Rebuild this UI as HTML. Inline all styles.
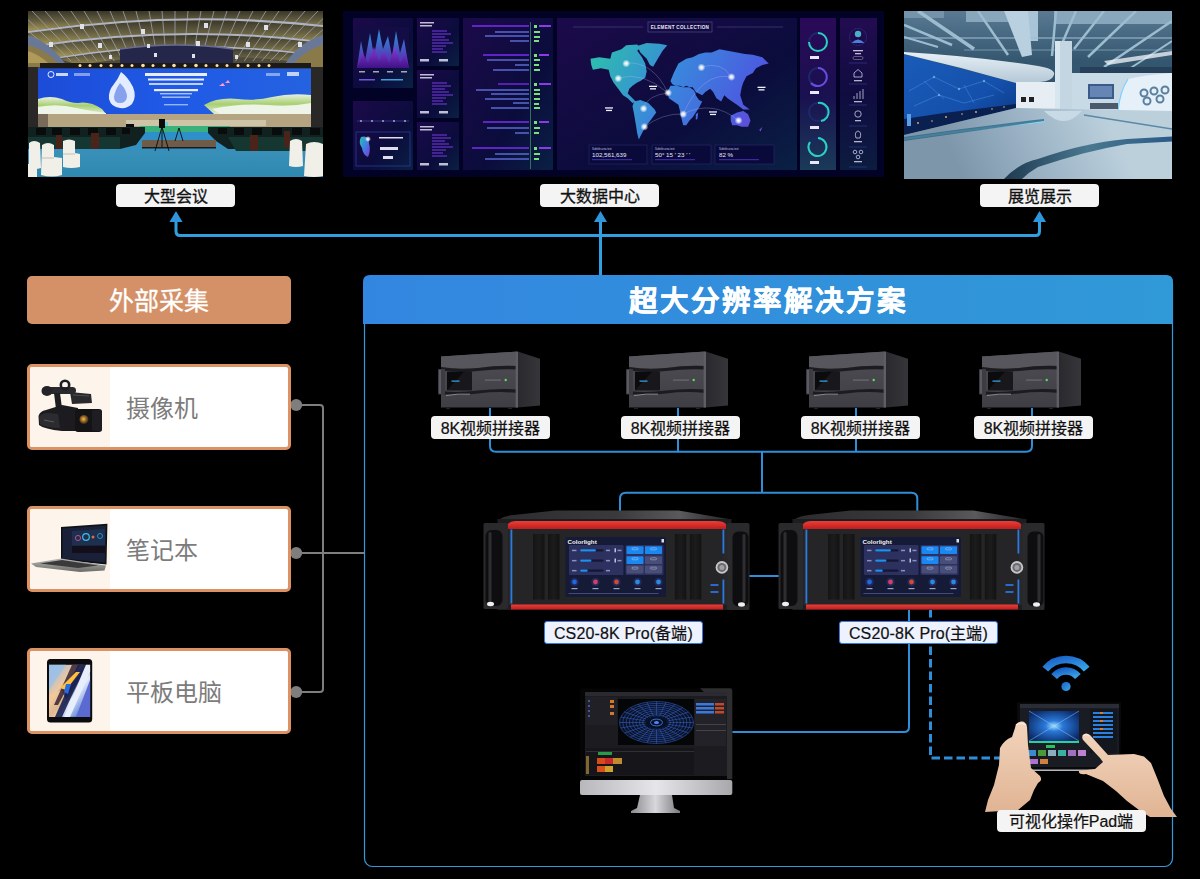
<!DOCTYPE html>
<html lang="zh-CN">
<head>
<meta charset="utf-8">
<title>超大分辨率解决方案</title>
<style>
html,body{margin:0;padding:0;background:#000;}
body{width:1200px;height:879px;position:relative;overflow:hidden;font-family:"Liberation Sans",sans-serif;}
.a{position:absolute;}
svg{display:block;}
.tl{position:absolute;top:183.5px;height:23px;width:119px;background:#f4f4f4;border-radius:4px;color:#111;font-size:16px;line-height:25px;text-align:center;-webkit-text-stroke:0.3px #111;}
.sl{position:absolute;top:415.5px;height:23px;width:119px;background:#f4f4f4;border-radius:4px;color:#111;font-size:16px;line-height:26px;text-align:center;-webkit-text-stroke:0.2px #111;}
.cl{position:absolute;top:620.5px;height:21.5px;width:157px;background:#eef2fe;border:1.2px solid #3a7ae0;border-radius:3px;color:#111;font-size:16px;line-height:23px;text-align:center;letter-spacing:0.15px;-webkit-text-stroke:0.2px #111;}
.card{position:absolute;left:27px;width:258px;height:80px;border:3px solid #dc9262;border-radius:5px;background:#fff;overflow:hidden;}
.card .ic{position:absolute;left:0;top:0;width:80px;height:80px;background:#fdf4eb;}
.card .tx{position:absolute;left:96px;top:1.5px;line-height:80px;font-size:24px;color:#7c7c7c;}
</style>
</head>
<body>

<!-- photos -->
<svg class="a" style="left:28px;top:11px" width="295" height="166" viewBox="0 0 295 166">
  <defs>
    <linearGradient id="cf_pan" x1="0" y1="0" x2="0" y2="1">
      <stop offset="0" stop-color="#3a3628"/>
      <stop offset="0.5" stop-color="#666042"/>
      <stop offset="1" stop-color="#a89650"/>
    </linearGradient>
    <linearGradient id="cf_scr" x1="0" y1="0" x2="1" y2="0">
      <stop offset="0" stop-color="#1c4cd8"/>
      <stop offset="0.5" stop-color="#1f5ae6"/>
      <stop offset="1" stop-color="#2462e0"/>
    </linearGradient>
    <linearGradient id="cf_floor" x1="0" y1="0" x2="0" y2="1">
      <stop offset="0" stop-color="#2a90d0"/>
      <stop offset="0.5" stop-color="#3890b8"/>
      <stop offset="1" stop-color="#2e88b0"/>
    </linearGradient>
    <linearGradient id="cf_hill" x1="0" y1="0" x2="0" y2="1">
      <stop offset="0" stop-color="#e8f0e0"/>
      <stop offset="0.5" stop-color="#a8d070"/>
      <stop offset="1" stop-color="#e0ecd8"/>
    </linearGradient>
  </defs>
  <rect width="295" height="166" fill="#4e4a3a"/>
  <!-- ceiling arch bands -->
  <path d="M0 0 H295 V14 Q150 -2 0 20 Z" fill="url(#cf_pan)"/>
  <path d="M0 22 Q150 0 295 16 L295 30 Q150 12 10 34 Z" fill="url(#cf_pan)"/>
  <path d="M12 36 Q150 14 295 32 L280 42 Q150 26 30 46 Z" fill="url(#cf_pan)"/>
  <path d="M32 48 Q150 28 278 44 L262 50 Q150 38 50 54 Z" fill="url(#cf_pan)" opacity="0.8"/>
  <!-- rafters -->
  <path d="M-22 0 L34.3 50 M-9 0 L43.0 50 M4 0 L51.7 50 M17 0 L60.3 50 M30 0 L69.0 50 M43 0 L77.7 50 M56 0 L86.3 50 M69 0 L95.0 50 M82 0 L103.7 50 M95 0 L112.3 50 M108 0 L121.0 50 M121 0 L129.7 50 M134 0 L138.3 50 M147 0 L147.0 50 M160 0 L155.7 50 M173 0 L164.3 50 M186 0 L173.0 50 M199 0 L181.7 50 M212 0 L190.3 50 M225 0 L199.0 50 M238 0 L207.7 50 M251 0 L216.3 50 M264 0 L225.0 50 M277 0 L233.7 50 M290 0 L242.3 50 M303 0 L251.0 50 M316 0 L259.7 50 " stroke="#9a9ea6" stroke-width="1" fill="none" opacity="0.85"/>
  <!-- arch beams -->
  <g stroke="#b0b4c0" fill="none">
    <path d="M0 21 Q150 -1 295 15" stroke-width="2.2"/>
    <path d="M8 35 Q150 13 295 31" stroke-width="2"/>
    <path d="M28 47 Q150 27 280 43" stroke-width="1.6"/>
  </g>
  <!-- left dome ornament -->
  <path d="M0 24 Q18 30 32 46 L40 56 L0 56 Z" fill="#6a7898"/>
  <path d="M0 34 Q16 38 28 50 L32 56 L0 56 Z" fill="#8a7a4a"/>
  <path d="M0 40 Q12 44 20 52 L0 52 Z" fill="#c0a860" opacity="0.7"/>
  <!-- right dome ornament -->
  <path d="M295 24 Q275 30 262 46 L255 56 L295 56 Z" fill="#6a7898"/>
  <path d="M295 34 Q280 38 268 50 L264 56 L295 56 Z" fill="#8a7a4a"/>
  <!-- back dark wall -->
  <path d="M92 38 Q150 30 205 38 V53 H92 Z" fill="#24264a"/>
  <path d="M92 38 Q150 30 205 38" stroke="#6a6a94" stroke-width="1.5" fill="none"/>
  <!-- lamps -->
  <g fill="#e0e2ea">
    <rect x="52" y="13" width="4" height="5"/><rect x="113" y="18" width="4" height="5"/><rect x="176" y="12" width="4" height="5"/><rect x="236" y="14" width="4" height="5"/>
    <rect x="21" y="31" width="4" height="5"/><rect x="70" y="32" width="4" height="5"/><rect x="119" y="33" width="3" height="4"/><rect x="168" y="30" width="4" height="5"/><rect x="218" y="31" width="4" height="5"/><rect x="270" y="31" width="4" height="5"/>
    <rect x="81" y="44" width="3" height="4"/><rect x="126" y="42" width="3" height="4"/><rect x="164" y="43" width="3" height="4"/><rect x="207" y="44" width="3" height="4"/>
  </g>
  <!-- light bar -->
  <rect x="12" y="52" width="271" height="5.5" fill="#1c1a18"/>
  <g fill="#ffe0a8">
    <circle cx="52" cy="54.5" r="1.5"/><circle cx="62" cy="54.5" r="1.5"/><circle cx="73" cy="54.5" r="1.5"/><circle cx="83" cy="54.5" r="1.5"/>
    <circle cx="94" cy="54.5" r="1.5"/><circle cx="104" cy="54.5" r="1.5"/><circle cx="115" cy="54.5" r="1.8"/><circle cx="125" cy="54.5" r="1.5"/>
    <circle cx="136" cy="54.5" r="1.5"/><circle cx="146" cy="54.5" r="1.8"/><circle cx="157" cy="54.5" r="1.5"/><circle cx="168" cy="54.5" r="1.8"/>
    <circle cx="178" cy="54.5" r="1.5"/><circle cx="189" cy="54.5" r="1.5"/><circle cx="199" cy="54.5" r="1.5"/><circle cx="210" cy="54.5" r="1.5"/>
    <circle cx="220" cy="54.5" r="1.5"/><circle cx="231" cy="54.5" r="1.5"/><circle cx="241" cy="54.5" r="1.5"/>
  </g>
  <!-- dark side walls -->
  <rect x="0" y="56" width="10" height="61" fill="#2a2826"/>
  <rect x="283" y="56" width="12" height="61" fill="#2a2826"/>
  <!-- LED screen -->
  <rect x="10" y="57.5" width="273" height="45.5" fill="url(#cf_scr)"/>
  <!-- hills -->
  <path d="M10 88 Q22 84 34 88 Q42 92 50 92 Q62 90 74 98 L78 103 L10 103 Z" fill="url(#cf_hill)"/>
  <path d="M10 96 Q30 92 48 97 Q62 100 78 102 L78 103 L10 103 Z" fill="#eef4e8"/>
  <path d="M176 94 Q190 86 210 88 Q228 90 244 86 Q262 82 283 84 L283 103 L186 103 Z" fill="url(#cf_hill)"/>
  <path d="M184 98 Q210 92 240 94 Q262 96 283 92 L283 103 L192 103 Z" fill="#eef4e8"/>
  <!-- drop logo -->
  <path d="M93 61 Q100 66 105 76 Q109 86 104 93 Q99 98 92 97 Q83 96 81 88 Q80 80 86 73 Q90 68 93 61 Z" fill="#e4ecff"/>
  <path d="M92 72 Q99 79 99 86 Q98 92 92 92 Q86 92 86 86 Q87 79 92 72 Z" fill="#4a70e0" opacity="0.6"/>
  <!-- screen text -->
  <g fill="#e8eeff">
    <rect x="117" y="62" width="62" height="3"/>
    <rect x="120" y="67.5" width="56" height="2"/>
    <rect x="121" y="72" width="54" height="2" opacity="0.8"/>
    <rect x="126" y="78" width="44" height="2.2"/>
    <rect x="132" y="82" width="32" height="1.4" opacity="0.7"/>
    <rect x="134" y="85.5" width="28" height="1.4" opacity="0.7"/>
    <rect x="136" y="93" width="24" height="1.4" opacity="0.6"/>
    <circle cx="23" cy="63.5" r="3" fill="none" stroke="#e8eeff" stroke-width="1"/>
    <rect x="28" y="62" width="12" height="3" opacity="0.85"/>
    <rect x="46" y="62" width="16" height="3" opacity="0.5"/>
    <rect x="259" y="61" width="12" height="4" opacity="0.8"/>
    <rect x="238" y="62" width="14" height="3" opacity="0.5"/>
  </g>
  <path d="M191 75 l4 -3 l2 3 z M197 72 l3 -3 l2 3 z" fill="#ff9ad0"/>
  <!-- wall under screen -->
  <rect x="10" y="103" width="273" height="14" fill="#b4a482"/>
  <rect x="10" y="103" width="10" height="14" fill="#7a6a58"/>
  <rect x="98" y="109" width="140" height="6" fill="#d8d2b8" opacity="0.7"/>
  <rect x="98" y="113" width="8" height="5" fill="#0a0a10"/><rect x="132" y="111" width="8" height="4" fill="#6ad0e0"/>
  <!-- floor -->
  <rect x="0" y="117" width="295" height="49" fill="url(#cf_floor)"/>
  <rect x="112" y="115" width="90" height="6" fill="#3ab07a"/>
  <!-- desks left -->
  <path d="M0 116 H117 V122 L108 134 L92 138 H0 Z" fill="#11211f"/>
  <path d="M0 126 H92 V138 H0 Z" fill="#163632"/>
  <g fill="#080c0c"><rect x="8" y="117" width="10" height="7"/><rect x="24" y="117" width="10" height="7"/><rect x="42" y="117" width="10" height="7"/><rect x="60" y="117" width="10" height="7"/><rect x="78" y="117" width="10" height="7"/><rect x="94" y="117" width="8" height="6"/></g>
  <!-- desks right -->
  <path d="M180 116 H295 V138 H200 L188 130 L180 122 Z" fill="#11211f"/>
  <path d="M200 126 H295 V140 H208 Z" fill="#163632"/>
  <g fill="#080c0c"><rect x="190" y="117" width="9" height="6"/><rect x="206" y="117" width="10" height="7"/><rect x="224" y="117" width="10" height="7"/><rect x="244" y="117" width="10" height="7"/><rect x="264" y="117" width="10" height="7"/><rect x="282" y="117" width="10" height="7"/></g>
  <!-- brown chairs -->
  <g fill="#4a2418">
    <rect x="63" y="122" width="8" height="16"/><rect x="28" y="124" width="6" height="14"/><rect x="222" y="124" width="8" height="16"/><rect x="256" y="120" width="6" height="16"/>
  </g>
  <!-- stage -->
  <rect x="114" y="129" width="74" height="8" fill="#6e5c48"/>
  <rect x="114" y="136" width="74" height="1.5" fill="#1a1a22"/>
  <!-- tripods -->
  <g stroke="#0a0a0a" stroke-width="0.9" fill="none">
    <path d="M134 116 L127 140 M134 116 L141 140 M134 116 L134 136"/>
    <path d="M151 117 L147 130 M151 117 L155 130"/>
  </g>
  <rect x="131" y="108" width="6" height="9" fill="#0a0a0a"/>
  <!-- white chairs left -->
  <g fill="#f0efe8">
    <path d="M1 132 Q6 128 12 132 L13 157 Q7 159 1 157 Z"/>
    <path d="M14 134 Q20 130 26 134 L26 146 L34 147 L34 164 Q24 167 13 164 Z"/>
    <path d="M35 130 Q41 127 47 130 L47 142 L52 143 L52 156 Q43 158 35 156 Z"/>
    <path d="M0 153 H9 V166 H0 Z"/>
  </g>
  <g fill="#d8d8d0"><rect x="14" y="146" width="12" height="2"/><rect x="35" y="142" width="12" height="2"/></g>
  <!-- white chairs right -->
  <g fill="#f0efe8">
    <path d="M262 130 Q268 126 274 130 L275 155 Q268 157 261 155 Z"/>
    <path d="M278 133 Q286 129 295 133 V165 Q286 167 276 165 Z"/>
  </g>
</svg>

<svg class="a" style="left:343px;top:11px" width="541" height="166" viewBox="0 0 541 166">
  <defs>
    <linearGradient id="db_pan" x1="0" y1="0" x2="0" y2="1">
      <stop offset="0" stop-color="#1a1050"/>
      <stop offset="1" stop-color="#0c1a48"/>
    </linearGradient>
    <linearGradient id="db_pan2" x1="0" y1="0" x2="1" y2="1">
      <stop offset="0" stop-color="#1c0a4a"/>
      <stop offset="0.6" stop-color="#0b0c3c"/>
      <stop offset="1" stop-color="#0a2044"/>
    </linearGradient>
    <linearGradient id="db_map" x1="0" y1="0" x2="1" y2="1">
      <stop offset="0" stop-color="#2cc0b0"/>
      <stop offset="0.45" stop-color="#3a88e0"/>
      <stop offset="1" stop-color="#7a38d8"/>
    </linearGradient>
    <linearGradient id="db_mtn" x1="0" y1="0" x2="0" y2="1">
      <stop offset="0" stop-color="#2aa8e8"/>
      <stop offset="1" stop-color="#6a1ab8"/>
    </linearGradient>
    <linearGradient id="db_mtn2" x1="0" y1="0" x2="0" y2="1">
      <stop offset="0" stop-color="#9a3ae0"/>
      <stop offset="1" stop-color="#3a1080"/>
    </linearGradient>
    <linearGradient id="db_f" x1="0" y1="0" x2="0" y2="1">
      <stop offset="0" stop-color="#2a0a58"/>
      <stop offset="0.5" stop-color="#1a1050"/>
      <stop offset="1" stop-color="#1a3a58"/>
    </linearGradient>
    <linearGradient id="db_map2" gradientUnits="userSpaceOnUse" x1="250" y1="35" x2="420" y2="125">
      <stop offset="0" stop-color="#2cc0ac"/>
      <stop offset="0.45" stop-color="#3a86dc"/>
      <stop offset="0.8" stop-color="#4a5ee0"/>
      <stop offset="1" stop-color="#7040d4"/>
    </linearGradient>
    <linearGradient id="db_g" x1="0" y1="0" x2="0" y2="1">
      <stop offset="0" stop-color="#220c50"/>
      <stop offset="0.5" stop-color="#100c40"/>
      <stop offset="1" stop-color="#0c1c40"/>
    </linearGradient>
    <radialGradient id="db_glow">
      <stop offset="0" stop-color="#fff"/>
      <stop offset="0.4" stop-color="#fff" stop-opacity="0.8"/>
      <stop offset="1" stop-color="#fff" stop-opacity="0"/>
    </radialGradient>
  </defs>
  <rect width="541" height="166" fill="#020226"/>
  <!-- panel A chart -->
  <rect x="10" y="7" width="60" height="70" fill="url(#db_pan2)"/>
  <rect x="14" y="16" width="52" height="41" fill="#140c44"/>
  <path d="M14 57 L18 30 L22 50 L27 22 L31 45 L36 18 L40 38 L45 25 L49 45 L53 20 L57 42 L61 28 L66 57 Z" fill="url(#db_mtn)" opacity="0.9"/>
  <path d="M14 57 L20 42 L25 52 L31 36 L36 50 L41 40 L46 52 L52 35 L57 52 L62 44 L66 57 Z" fill="url(#db_mtn2)" opacity="0.85"/>
  <g fill="#ccd" opacity="0.8"><rect x="16" y="60" width="6" height="1.5"/><rect x="30" y="60" width="6" height="1.5"/><rect x="44" y="60" width="6" height="1.5"/><rect x="58" y="60" width="6" height="1.5"/></g>
  <rect x="16" y="68" width="16" height="1.5" fill="#6a5ae0"/><rect x="38" y="68" width="22" height="1.5" fill="#3aa0e0"/>
  <!-- panel B -->
  <rect x="10" y="90" width="60" height="69" fill="url(#db_pan2)"/>
  <path d="M14 110 H66" stroke="#3a3aa0" stroke-width="0.8"/>
  <g fill="#aab"><circle cx="18" cy="110" r="1"/><circle cx="29" cy="110" r="1"/><circle cx="40" cy="110" r="1"/><circle cx="51" cy="110" r="1"/><circle cx="62" cy="110" r="1"/></g>
  <rect x="13" y="121" width="54" height="34" fill="none" stroke="#2a3a9a" stroke-width="0.8"/>
  <path d="M18 126 Q26 124 26 132 Q28 140 25 146 Q20 144 19 137 Q15 132 18 126 Z" fill="url(#db_map)"/>
  <circle cx="25" cy="128" r="3" fill="url(#db_glow)"/>
  <g fill="#dde"><rect x="36" y="126" width="24" height="1.5"/><rect x="37" y="136" width="18" height="3"/><rect x="40" y="145" width="10" height="3"/></g>
  <!-- column C -->
  <g>
    <rect x="74" y="7" width="42" height="48" fill="url(#db_pan2)"/>
    <rect x="74" y="59" width="42" height="48" fill="url(#db_pan2)"/>
    <rect x="74" y="111" width="42" height="48" fill="url(#db_pan2)"/>
  </g>
  <g fill="#dde" opacity="0.85">
    <rect x="77" y="11" width="14" height="1.5"/><rect x="77" y="14" width="12" height="1.5"/>
    <rect x="77" y="63" width="14" height="1.5"/><rect x="77" y="66" width="12" height="1.5"/>
    <rect x="77" y="115" width="14" height="1.5"/><rect x="77" y="118" width="12" height="1.5"/>
    <rect x="77" y="48" width="9" height="2.5"/><rect x="96" y="48" width="9" height="2.5"/>
    <rect x="77" y="100" width="9" height="2.5"/><rect x="96" y="100" width="9" height="2.5"/>
    <rect x="77" y="152" width="9" height="2.5"/><rect x="96" y="152" width="9" height="2.5"/>
  </g>
  <g stroke="#7a3ae8" stroke-width="1.1">
    <path d="M89 20 H104 M89 23 H108 M89 26 H102 M89 29 H106 M89 32 H110 M89 35 H103 M89 38 H100 M89 41 H104"/>
    <path d="M89 72 H104 M89 75 H108 M89 78 H102 M89 81 H106 M89 84 H110 M89 87 H103 M89 90 H100 M89 93 H104"/>
    <path d="M89 124 H104 M89 127 H108 M89 130 H102 M89 133 H106 M89 136 H110 M89 139 H103 M89 142 H100 M89 145 H104"/>
  </g>
  <!-- panel D bars -->
  <rect x="120" y="7" width="90" height="152" fill="url(#db_pan2)"/>
  <path d="M187.5 11 V158" stroke="#3a8a6a" stroke-width="0.8"/>
  <g stroke-width="1.3">
    <path d="M129 15 H186" stroke="#7a2ef0"/>
    <path d="M152 21 H186 M142 25 H186 M167 30 H186" stroke="#5a6ad0"/>
    <path d="M140 44 H186" stroke="#7a2ef0"/>
    <path d="M144 49 H186 M172 54 H186 M150 59 H186" stroke="#5a6ad0"/>
    <path d="M155 73 H186" stroke="#7a2ef0"/>
    <path d="M133 79 H186 M148 83 H186 M142 88 H186 M170 92 H186 M148 97 H186" stroke="#5a6ad0"/>
    <path d="M140 111 H186" stroke="#7a2ef0"/>
    <path d="M144 117 H186 M172 122 H186" stroke="#5a6ad0"/>
    <path d="M129 137 H186" stroke="#7a2ef0"/>
    <path d="M152 143 H186 M142 148 H186" stroke="#5a6ad0"/>
  </g>
  <g fill="#7ae07a">
    <rect x="191" y="14" width="3" height="3"/><rect x="191" y="43" width="3" height="3"/><rect x="191" y="72" width="3" height="3"/><rect x="191" y="110" width="3" height="3"/><rect x="191" y="136" width="3" height="3"/>
    <rect x="191" y="20" width="6" height="2"/><rect x="191" y="25" width="6" height="2"/><rect x="191" y="29" width="5" height="2"/>
    <rect x="191" y="48" width="6" height="2"/><rect x="191" y="53" width="5" height="2"/><rect x="191" y="58" width="6" height="2"/>
    <rect x="191" y="78" width="6" height="2"/><rect x="191" y="82" width="6" height="2"/><rect x="191" y="87" width="6" height="2"/><rect x="191" y="92" width="5" height="2"/><rect x="191" y="96" width="6" height="2"/>
    <rect x="191" y="116" width="6" height="2"/><rect x="191" y="121" width="5" height="2"/>
    <rect x="191" y="142" width="6" height="2"/><rect x="191" y="147" width="5" height="2"/>
  </g>
  <g fill="#8a3ae8"><rect x="196" y="14" width="12" height="2"/><rect x="196" y="43" width="10" height="2"/><rect x="196" y="72" width="12" height="2"/><rect x="196" y="110" width="10" height="2"/><rect x="196" y="136" width="12" height="2"/></g>
  <!-- panel E map -->
  <rect x="214" y="7" width="240" height="152" fill="url(#db_pan2)"/>
  <rect x="305" y="11" width="64" height="10" fill="none" stroke="#4a4a8a" stroke-width="0.7"/>
  <text x="337" y="18.3" text-anchor="middle" font-family="Liberation Sans, sans-serif" font-size="4.6" font-weight="700" fill="#e8e8f8" letter-spacing="0.3">ELEMENT COLLECTION</text>
  <path d="M230 16 H300 M374 16 H440" stroke="#4a4a8a" stroke-width="0.6"/>
  <g fill="url(#db_map2)">
<polygon points="247.5,47.7 256.2,46.2 267.3,47.7 268.9,41.4 278.4,38.2 283.2,34.3 294.2,33.5 297.4,36.7 294.2,39.8 299.0,46.2 302.2,52.5 303.7,60.4 302.2,66.7 297.4,69.9 294.2,71.5 289.5,74.7 286.3,77.8 284.7,82.6 289.5,87.3 292.7,90.5 289.5,92.1 284.7,87.3 280.0,84.2 275.2,77.8 270.5,71.5 267.3,65.2 265.7,58.8 257.8,57.2 249.9,58.8 248.3,54.1"/>
    <polygon points="294.2,35.1 303.7,31.9 316.4,32.7 324.3,34.3 319.6,39.8 314.8,47.7 310.1,55.7 306.9,54.1 303.7,47.7 297.4,41.4"/>
    <polygon points="291.1,90.5 297.4,88.9 305.3,92.1 311.7,98.4 313.2,101.6 308.5,107.9 303.7,114.2 300.6,119.0 297.4,125.3 295.8,128.5 294.2,122.2 292.7,112.7 291.1,103.2 289.5,95.2"/>
    <polygon points="327.5,69.9 330.7,62.0 335.4,52.5 343.3,47.7 349.7,46.2 356.0,43.0 362.3,41.4 368.7,41.4 376.6,38.2 384.5,39.8 394.0,41.4 401.9,43.0 409.8,43.8 419.3,46.2 425.7,52.5 419.3,54.1 413.0,57.2 409.8,62.0 403.5,65.2 400.3,71.5 398.7,76.2 397.2,84.2 400.3,93.7 406.7,98.4 400.3,98.4 394.0,93.7 389.2,90.5 384.5,87.3 381.3,84.2 378.2,90.5 373.4,87.3 370.2,81.0 367.1,77.8 362.3,81.0 359.2,84.2 352.8,81.0 349.7,76.2 346.5,76.2 343.3,74.7 340.2,76.2 337.0,74.7 332.2,74.7 329.1,73.1"/>
    <polygon points="327.5,74.7 333.8,74.7 340.2,76.2 346.5,76.2 351.2,79.4 352.8,84.2 356.0,88.9 359.2,90.5 356.0,96.8 352.8,101.6 349.7,106.3 346.5,109.5 343.3,114.2 340.2,114.2 338.6,107.9 337.0,100.0 335.4,93.7 330.7,90.5 325.9,87.3 324.3,81.0"/>
    <polygon points="387.7,104.7 394.0,101.6 400.3,100.0 405.1,103.2 407.5,109.5 405.1,115.8 398.7,115.8 394.0,114.2 389.2,114.2 387.7,109.5"/>
    <polygon points="352.8,103.2 355.2,101.6 354.4,107.9 352.8,108.7"/>
    <polygon points="416.2,119.0 419.3,115.8 417.7,120.6"/>
  </g>
  <g fill="none" stroke="#c0c8ff" stroke-width="0.5" opacity="0.55">
    <path d="M283 52 Q310 50 325 82"/><path d="M275 67 Q300 60 325 82"/><path d="M300 97 Q305 84 325 82"/><path d="M301 116 Q320 102 340 103"/>
    <path d="M340 103 Q360 60 388 66"/><path d="M358 56 Q380 50 388 66"/><path d="M340 103 Q370 88 396 110"/>
  </g>
  <g fill="url(#db_glow)">
    <circle cx="283.2" cy="52.5" r="4"/> <circle cx="275.2" cy="67.5" r="4"/> <circle cx="325.1" cy="81.8" r="4"/> <circle cx="300.6" cy="97.6" r="4"/> <circle cx="301.4" cy="115.8" r="4"/> <circle cx="340.2" cy="103.2" r="4"/> <circle cx="358.4" cy="56.5" r="4"/> <circle cx="388.5" cy="66.0" r="4"/> <circle cx="395.6" cy="109.5" r="4"/>
  </g>
  <g fill="#0a0a3a" stroke="#2a2a6a" stroke-width="0.6">
    <rect x="246" y="134" width="58" height="19"/><rect x="309" y="134" width="59" height="19"/><rect x="372" y="134" width="59" height="19"/>
  </g>
  <g font-family="Liberation Sans, sans-serif" fill="#e8e8ff">
    <text x="249" y="146" font-size="6.2">102,561,639</text><text x="312" y="146" font-size="6.2">50° 15 ' 23 ' '</text><text x="376" y="146" font-size="6.2">82 %</text>
    <text x="249" y="139" font-size="2.6" fill="#c8c8e8">Subtitle area text</text><text x="312" y="139" font-size="2.6" fill="#c8c8e8">Subtitle area text</text><text x="376" y="139" font-size="2.6" fill="#c8c8e8">Subtitle area text</text>
  </g>
  <g fill="#f0f0ff"><rect x="306" y="74.7" width="8" height="1.3"/><rect x="307" y="77.2" width="6" height="1.3"/><rect x="262" y="96.3" width="8" height="1.3"/><rect x="263" y="98.8" width="6" height="1.3"/><rect x="366" y="100.3" width="8" height="1.3"/><rect x="367" y="102.8" width="6" height="1.3"/><rect x="414.5" y="75.7" width="8" height="1.3"/><rect x="415.5" y="78.2" width="6" height="1.3"/></g>
  <g fill="#3a2aa0"><rect x="249" y="148" width="40" height="1.2"/><rect x="312" y="148" width="40" height="1.2"/><rect x="376" y="148" width="40" height="1.2"/></g>
  <!-- panel F rings -->
  <rect x="457" y="7" width="36" height="152" fill="url(#db_f)"/>
  <g fill="none" stroke-width="2">
    <circle cx="475" cy="31" r="9" stroke="#1a2a6a"/><path d="M475 22 A9 9 0 1 1 466 31" stroke="#2ad0c0"/>
    <circle cx="475" cy="66" r="9" stroke="#1a2a6a"/><path d="M475 57 A9 9 0 1 1 468 72" stroke="#6a4ae0"/>
    <circle cx="475" cy="101" r="9" stroke="#1a2a6a"/><path d="M475 92 A9 9 0 0 1 478 110" stroke="#2ad0c0"/>
    <circle cx="475" cy="136" r="9" stroke="#1a2a6a"/><path d="M475 127 A9 9 0 1 1 467 131" stroke="#2ad0c0"/>
  </g>
  <g fill="#e8e8ff"><rect x="467" y="45" width="9" height="3"/><rect x="467" y="80" width="9" height="3"/><rect x="467" y="115" width="9" height="3"/><rect x="467" y="150" width="9" height="3"/></g>
  <!-- panel G icons -->
  <rect x="497" y="7" width="37" height="152" fill="url(#db_g)"/>
  <circle cx="515" cy="26" r="8.5" fill="none" stroke="#3a3a90" stroke-width="0.8" stroke-dasharray="1 0.6"/>
  <circle cx="515" cy="23" r="3.2" fill="#4ab0c8"/><path d="M508.5 32 Q515 25 521.5 32 Z" fill="#4a80d8"/>
  <g fill="#dde" opacity="0.85"><rect x="510" y="39" width="10" height="1.3"/><rect x="512" y="42" width="6" height="1.3"/></g>
  <rect x="510" y="45.5" width="10" height="3" rx="1.5" fill="none" stroke="#aab" stroke-width="0.5"/>
  <g stroke="#3a4aa0" stroke-width="0.5"><path d="M506 52 H524 M506 73 H524 M506 94 H524 M506 115 H524 M506 136 H524 M506 156 H524"/></g>
  <g fill="none" stroke="#c8cce8" stroke-width="0.8">
    <path d="M511 62 L515 58.5 L519 62 V66 H511 Z"/>
    <path d="M511 88 V85 M514 88 V82 M517 88 V80 M520 88 V78"/>
    <circle cx="515" cy="103" r="3.2"/>
    <path d="M513 127 Q511 121 515 120 Q519 121 517 127 Z"/>
    <circle cx="512" cy="141" r="1.8"/><circle cx="518" cy="141" r="1.8"/><circle cx="515" cy="146" r="1.8"/>
  </g>
  <g fill="#dde" opacity="0.8"><rect x="511" y="69" width="8" height="1.3"/><rect x="511" y="90" width="8" height="1.3"/><rect x="512" y="109" width="6" height="1.3"/><rect x="511" y="130" width="8" height="1.3"/><rect x="511" y="150" width="8" height="1.3"/></g>
</svg>

<svg class="a" style="left:904px;top:11px" width="268" height="168" viewBox="0 0 268 168">
  <defs>
    <linearGradient id="ex_ceil" x1="0" y1="0" x2="0" y2="1">
      <stop offset="0" stop-color="#5a7a94"/>
      <stop offset="0.3" stop-color="#34566e"/>
      <stop offset="1" stop-color="#2a4a62"/>
    </linearGradient>
    <linearGradient id="ex_wall" x1="0" y1="0" x2="1" y2="1">
      <stop offset="0" stop-color="#1a5cb8"/>
      <stop offset="0.6" stop-color="#1450ac"/>
      <stop offset="1" stop-color="#0a3278"/>
    </linearGradient>
    <linearGradient id="ex_floor" gradientUnits="userSpaceOnUse" x1="60" y1="168" x2="200" y2="100">
      <stop offset="0" stop-color="#7e96aa"/>
      <stop offset="0.5" stop-color="#9cb4c6"/>
      <stop offset="1" stop-color="#bcd0dc"/>
    </linearGradient>
    <linearGradient id="ex_stripe" x1="0" y1="0" x2="1" y2="0">
      <stop offset="0" stop-color="#1e3a50"/>
      <stop offset="0.5" stop-color="#4a7890"/>
      <stop offset="1" stop-color="#2a5a88"/>
    </linearGradient>
    <linearGradient id="ex_canopy" x1="0" y1="0" x2="0" y2="1">
      <stop offset="0" stop-color="#e8f0f6"/>
      <stop offset="1" stop-color="#b4c8d6"/>
    </linearGradient>
  </defs>
  <rect width="268" height="168" fill="url(#ex_ceil)"/>
  <!-- ceiling light panels -->
  <g fill="#88a6bc">
    <rect x="62" y="0" width="70" height="11"/>
    <rect x="150" y="0" width="118" height="13"/>
    <rect x="0" y="0" width="40" height="7" opacity="0.6"/>
  </g>
  <rect x="112" y="0" width="22" height="30" fill="#a8c4d6"/>
  <!-- ducts & beams -->
  <g stroke="#9cbcd0" fill="none">
    <path d="M0 27 H268" stroke-width="1.5" opacity="0.7"/>
    <path d="M60 39 H268" stroke-width="1.2" opacity="0.6"/>
    <path d="M14 0 L70 38" stroke-width="3.5"/>
    <path d="M0 14 L48 34" stroke-width="2.5"/>
    <path d="M0 26 L34 36" stroke-width="2"/>
    <path d="M74 0 L104 44" stroke-width="2.5"/>
    <path d="M152 0 L148 45" stroke-width="2.5"/>
    <path d="M172 0 L154 42" stroke-width="2.5"/>
    <path d="M200 0 L170 38" stroke-width="2.5"/>
    <path d="M232 0 L184 46" stroke-width="2.5"/>
    <path d="M268 10 L200 56" stroke-width="2.5"/>
    <path d="M268 30 L222 60" stroke-width="2"/>
  </g>
  <path d="M100 0 L124 0 L128 44 L118 46 Z" fill="#b8d0e0"/>
  <!-- light strip right -->
  <path d="M200 50 L268 40 L268 44 L204 54 Z" fill="#e8eef4" opacity="0.8"/>
  <rect x="176" y="56" width="92" height="6" fill="#26405a"/>
  <!-- left video wall -->
  <path d="M0 43 L112 72 L112 96 L0 124 Z" fill="url(#ex_wall)"/>
  <g stroke="#6ab8ff" stroke-width="0.5" opacity="0.6" fill="none">
    <path d="M5 80 L30 66 L55 78 L80 70 L100 82"/><path d="M10 95 L35 84 L60 92 L90 84"/><path d="M20 70 L40 88 M60 74 L70 92"/>
  </g>
  <g fill="#8ad0ff" opacity="0.6"><circle cx="30" cy="66" r="1.2"/><circle cx="55" cy="78" r="1.2"/><circle cx="80" cy="70" r="1.2"/><circle cx="35" cy="84" r="1.2"/></g>
  <path d="M0 108 L40 102 L80 97 L112 93 L112 97 L0 124 Z" fill="#0a2050"/>
  <g fill="#ffc870" opacity="0.9"><circle cx="14" cy="112" r="0.9"/><circle cx="28" cy="110" r="0.8"/><circle cx="42" cy="106" r="0.9"/><circle cx="58" cy="103" r="0.8"/><circle cx="72" cy="101" r="0.9"/><circle cx="88" cy="98" r="0.8"/><circle cx="100" cy="96" r="0.8"/></g>
  <rect x="3" y="103" width="4" height="12" fill="#5aa0e8"/>
  <!-- white curved canopy -->
  <path d="M0 41 Q70 45 134 55 Q152 58 150 64 Q148 70 136 71 L112 72 Q56 56 0 43 Z" fill="url(#ex_canopy)"/>
  <!-- back white room -->
  <rect x="112" y="71" width="40" height="27" fill="#e6eef4"/>
  <rect x="117" y="86" width="5" height="5" fill="#222"/><rect x="125" y="86" width="5" height="5" fill="#222"/>
  <!-- right back wall -->
  <rect x="168" y="62" width="100" height="40" fill="#c8dae6"/>
  <rect x="184" y="73" width="26" height="15" fill="#3a5a88"/>
  <rect x="186" y="75" width="22" height="11" fill="#8aa8d8" opacity="0.55"/>
  <path d="M224 68 Q240 64 268 62 V102 H214 Q216 80 224 68 Z" fill="#e6f0f8"/>
  <path d="M224 68 Q216 80 214 100" stroke="#7ad0ff" stroke-width="1.2" fill="none"/>
  <g fill="none" stroke="#5a80a0" stroke-width="2">
    <circle cx="240" cy="82" r="3.5"/><circle cx="250" cy="80" r="3.5"/><circle cx="261" cy="79" r="3.5"/><circle cx="243" cy="90" r="3.5"/><circle cx="256" cy="88" r="3.5"/>
  </g>
  <rect x="186" y="92" width="28" height="6" fill="#4a5a6a"/>
  <!-- pillar -->
  <rect x="151" y="30" width="17" height="74" fill="#c4d6e2"/>
  <rect x="151" y="30" width="5" height="74" fill="#d8e6f0"/>
  <!-- floor -->
  <path d="M0 124 L112 97 L268 100 V168 H0 Z" fill="url(#ex_floor)"/>
  <path d="M0 128 Q70 118 140 110" fill="none" stroke="#7ae0ff" stroke-width="2"/>
  <path d="M0 126 Q70 116 140 108 L140 110 Q70 120 0 130 Z" fill="#2a5a78" opacity="0.7"/>
  <path d="M140 100 Q160 120 178 100 Z" fill="#c8dae6"/>
  <path d="M180 104 Q230 112 268 118" fill="none" stroke="#5a88a8" stroke-width="1.5"/>
  <!-- dark curved stripe -->
  <path d="M100 168 Q115 152 134 148 Q160 139 179 135 Q200 130 223 128 L268 125.5 L268 130.5 L223 133 Q200 137 179 142.5 Q155 149 134 156 Q125 161 118 168 Z" fill="url(#ex_stripe)"/>
</svg>


<!-- base graphics layer -->
<svg class="a" style="left:0;top:0" width="1200" height="879" viewBox="0 0 1200 879">
  <defs>
    <linearGradient id="hdr" x1="0" y1="0" x2="1" y2="0">
      <stop offset="0" stop-color="#3386e0"/>
      <stop offset="1" stop-color="#3099d7"/>
    </linearGradient>
  </defs>

  <!-- top arrows -->
  <g fill="none" stroke="#31a0e0" stroke-width="3">
    <path d="M176 222 V231 Q176 235.5 180 235.5 H1036 Q1039.5 235.5 1039.5 231 V222"/>
    <path d="M600.5 222 V275"/>
  </g>
  <g fill="#2f96dc">
    <path d="M169.5 222 L176 211 L182.5 222 Z"/>
    <path d="M594 222 L600.5 211 L607 222 Z"/>
    <path d="M1033 222 L1039.5 211 L1046 222 Z"/>
  </g>

  <!-- big solution box -->
  <rect x="364.5" y="275.5" width="808" height="591" rx="8" fill="none" stroke="#3399dd" stroke-width="1.2"/>
  <path d="M363 324 V282 Q363 275 370 275 H1166 Q1173 275 1173 282 V324 Z" fill="url(#hdr)"/>

  <!-- left connectors -->
  <g fill="none" stroke="#7e7e7e" stroke-width="2">
    <path d="M300 405 H320 Q323 405 323 408 V689 Q323 692 320 692 H300"/>
    <path d="M300 553 H364"/>
  </g>
  <g fill="#7e7e7e">
    <circle cx="296.2" cy="405" r="6"/>
    <circle cx="296.2" cy="553" r="6"/>
    <circle cx="296.2" cy="692" r="6"/>
  </g>

  <!-- server connectors -->
  <g fill="none" stroke="#2f8ed8" stroke-width="2">
    <path d="M490 408 V446 Q490 451.8 496 451.8 H1026 Q1032 451.8 1032 446 V408"/>
    <path d="M678 408 V452"/>
    <path d="M856 408 V452"/>
    <path d="M762 451.8 V492.7"/>
    <path d="M620 512 V498.7 Q620 492.7 626 492.7 H911.3 Q917.3 492.7 917.3 498.7 V512"/>
    <path d="M740 576 H790"/>
    <path d="M909 609 V727 Q909 732 904 732 H732"/>
  </g>
  <path d="M930.5 609 V758 H1003" fill="none" stroke="#2f8ed8" stroke-width="3" stroke-dasharray="8.5 4"/>
</svg>

<svg class="a" style="left:0;top:0" width="1200" height="879" viewBox="0 0 1200 879"><defs>
 <linearGradient id="sv_front" x1="0" y1="0" x2="0" y2="1"><stop offset="0" stop-color="#4e4e54"/><stop offset="1" stop-color="#3e3e44"/></linearGradient>
 <linearGradient id="sv_side" x1="0" y1="0" x2="1" y2="0"><stop offset="0" stop-color="#2a2a2e"/><stop offset="1" stop-color="#35353a"/></linearGradient>
 <linearGradient id="cs_lid" x1="0" y1="0" x2="1" y2="0"><stop offset="0" stop-color="#2c2c2e"/><stop offset="0.5" stop-color="#3a3a3c"/><stop offset="0.78" stop-color="#5a5a5c"/><stop offset="0.9" stop-color="#3a3a3c"/><stop offset="1" stop-color="#2a2a2c"/></linearGradient>
 <linearGradient id="cs_red" x1="0" y1="0" x2="0" y2="1"><stop offset="0" stop-color="#e8403a"/><stop offset="1" stop-color="#c01c1c"/></linearGradient>
 <pattern id="cs_vent_p" width="2" height="2" patternUnits="userSpaceOnUse"><rect width="2" height="2" fill="#161616"/><rect width="1" height="1" fill="#2a2a2a"/></pattern>
 <linearGradient id="cs_vent" x1="0" y1="0" x2="1" y2="0"><stop offset="0" stop-color="#141414"/><stop offset="0.5" stop-color="#1c1c1c"/><stop offset="1" stop-color="#121212"/></linearGradient>
</defs><g transform="translate(438 351)"><path d="M79.6 0.5 L102 7.8 L102 54.5 L79.6 56.5 Z" fill="url(#sv_side)"/><path d="M3 5.5 L79.6 0.5 L79.6 56.5 L3 56.5 Z" fill="url(#sv_front)"/><path d="M3 5.5 L79.6 0.5 L79.6 15 Q60 14 40 17 Q20 19 3 16 Z" fill="#56565c"/><path d="M3 16 Q20 19 40 17 Q60 14 79.6 15 L79.6 18.5 Q60 17.5 40 20 Q20 22 3 19.5 Z" fill="#1c1c20"/><path d="M3 40 Q20 42 40 39.5 Q60 37 79.6 38.5 L79.6 42 Q60 40 40 42.5 Q20 45 3 43 Z" fill="#1c1c20"/><path d="M8 44.5 Q20 42.5 32 43.2" stroke="#8a8a92" stroke-width="1" fill="none"/><rect x="77.6" y="1" width="2.4" height="55.5" fill="#5e5e66"/><rect x="0" y="18" width="7" height="25.5" rx="1" fill="#3c3c42"/><rect x="1" y="19" width="2" height="23.5" fill="#5a5a62"/><rect x="9" y="20.7" width="24.7" height="18.5" fill="#0b0b0e"/><path d="M9 39.2 L26 20.7 L33.7 20.7 L33.7 39.2 Z" fill="#18181c"/><rect x="13.5" y="29.5" width="8" height="1.2" fill="#3aa8e8"/><rect x="47" y="28.5" width="16" height="1.2" fill="#6a6a72"/><circle cx="67.7" cy="29" r="1.2" fill="#5ae05a"/><rect x="8" y="56.5" width="4" height="1.5" fill="#222"/><rect x="70" y="56.5" width="4" height="1.5" fill="#222"/></g><g transform="translate(626 351)"><path d="M79.6 0.5 L102 7.8 L102 54.5 L79.6 56.5 Z" fill="url(#sv_side)"/><path d="M3 5.5 L79.6 0.5 L79.6 56.5 L3 56.5 Z" fill="url(#sv_front)"/><path d="M3 5.5 L79.6 0.5 L79.6 15 Q60 14 40 17 Q20 19 3 16 Z" fill="#56565c"/><path d="M3 16 Q20 19 40 17 Q60 14 79.6 15 L79.6 18.5 Q60 17.5 40 20 Q20 22 3 19.5 Z" fill="#1c1c20"/><path d="M3 40 Q20 42 40 39.5 Q60 37 79.6 38.5 L79.6 42 Q60 40 40 42.5 Q20 45 3 43 Z" fill="#1c1c20"/><path d="M8 44.5 Q20 42.5 32 43.2" stroke="#8a8a92" stroke-width="1" fill="none"/><rect x="77.6" y="1" width="2.4" height="55.5" fill="#5e5e66"/><rect x="0" y="18" width="7" height="25.5" rx="1" fill="#3c3c42"/><rect x="1" y="19" width="2" height="23.5" fill="#5a5a62"/><rect x="9" y="20.7" width="24.7" height="18.5" fill="#0b0b0e"/><path d="M9 39.2 L26 20.7 L33.7 20.7 L33.7 39.2 Z" fill="#18181c"/><rect x="13.5" y="29.5" width="8" height="1.2" fill="#3aa8e8"/><rect x="47" y="28.5" width="16" height="1.2" fill="#6a6a72"/><circle cx="67.7" cy="29" r="1.2" fill="#5ae05a"/><rect x="8" y="56.5" width="4" height="1.5" fill="#222"/><rect x="70" y="56.5" width="4" height="1.5" fill="#222"/></g><g transform="translate(806 351)"><path d="M79.6 0.5 L102 7.8 L102 54.5 L79.6 56.5 Z" fill="url(#sv_side)"/><path d="M3 5.5 L79.6 0.5 L79.6 56.5 L3 56.5 Z" fill="url(#sv_front)"/><path d="M3 5.5 L79.6 0.5 L79.6 15 Q60 14 40 17 Q20 19 3 16 Z" fill="#56565c"/><path d="M3 16 Q20 19 40 17 Q60 14 79.6 15 L79.6 18.5 Q60 17.5 40 20 Q20 22 3 19.5 Z" fill="#1c1c20"/><path d="M3 40 Q20 42 40 39.5 Q60 37 79.6 38.5 L79.6 42 Q60 40 40 42.5 Q20 45 3 43 Z" fill="#1c1c20"/><path d="M8 44.5 Q20 42.5 32 43.2" stroke="#8a8a92" stroke-width="1" fill="none"/><rect x="77.6" y="1" width="2.4" height="55.5" fill="#5e5e66"/><rect x="0" y="18" width="7" height="25.5" rx="1" fill="#3c3c42"/><rect x="1" y="19" width="2" height="23.5" fill="#5a5a62"/><rect x="9" y="20.7" width="24.7" height="18.5" fill="#0b0b0e"/><path d="M9 39.2 L26 20.7 L33.7 20.7 L33.7 39.2 Z" fill="#18181c"/><rect x="13.5" y="29.5" width="8" height="1.2" fill="#3aa8e8"/><rect x="47" y="28.5" width="16" height="1.2" fill="#6a6a72"/><circle cx="67.7" cy="29" r="1.2" fill="#5ae05a"/><rect x="8" y="56.5" width="4" height="1.5" fill="#222"/><rect x="70" y="56.5" width="4" height="1.5" fill="#222"/></g><g transform="translate(979 351)"><path d="M79.6 0.5 L102 7.8 L102 54.5 L79.6 56.5 Z" fill="url(#sv_side)"/><path d="M3 5.5 L79.6 0.5 L79.6 56.5 L3 56.5 Z" fill="url(#sv_front)"/><path d="M3 5.5 L79.6 0.5 L79.6 15 Q60 14 40 17 Q20 19 3 16 Z" fill="#56565c"/><path d="M3 16 Q20 19 40 17 Q60 14 79.6 15 L79.6 18.5 Q60 17.5 40 20 Q20 22 3 19.5 Z" fill="#1c1c20"/><path d="M3 40 Q20 42 40 39.5 Q60 37 79.6 38.5 L79.6 42 Q60 40 40 42.5 Q20 45 3 43 Z" fill="#1c1c20"/><path d="M8 44.5 Q20 42.5 32 43.2" stroke="#8a8a92" stroke-width="1" fill="none"/><rect x="77.6" y="1" width="2.4" height="55.5" fill="#5e5e66"/><rect x="0" y="18" width="7" height="25.5" rx="1" fill="#3c3c42"/><rect x="1" y="19" width="2" height="23.5" fill="#5a5a62"/><rect x="9" y="20.7" width="24.7" height="18.5" fill="#0b0b0e"/><path d="M9 39.2 L26 20.7 L33.7 20.7 L33.7 39.2 Z" fill="#18181c"/><rect x="13.5" y="29.5" width="8" height="1.2" fill="#3aa8e8"/><rect x="47" y="28.5" width="16" height="1.2" fill="#6a6a72"/><circle cx="67.7" cy="29" r="1.2" fill="#5ae05a"/><rect x="8" y="56.5" width="4" height="1.5" fill="#222"/><rect x="70" y="56.5" width="4" height="1.5" fill="#222"/></g><g transform="translate(483.5 510)"><path d="M16 9.5 Q20 6 30 5 L72 0.5 L195 0.5 L248 9.5 Z" fill="url(#cs_lid)"/><rect x="14" y="9" width="234" height="91" fill="#1e1e20"/><rect x="0" y="13" width="24.5" height="86" rx="1.5" fill="#2a2a2c"/><rect x="243.5" y="13" width="22.5" height="87" rx="1.5" fill="#2a2a2c"/><rect x="2" y="20" width="17" height="76" rx="6" fill="#0e0e10"/><rect x="5" y="22" width="3" height="70" rx="1.5" fill="#2e2e32"/><ellipse cx="7" cy="94" rx="3.5" ry="2.2" fill="#f0f0f0"/><rect x="249" y="21.5" width="16" height="75" rx="6" fill="#0e0e10"/><rect x="259" y="24" width="3" height="68" rx="1.5" fill="#2e2e32"/><ellipse cx="258" cy="94.5" rx="3.5" ry="2.2" fill="#f0f0f0"/><rect x="25" y="14" width="219" height="81" fill="#28282a"/><rect x="29" y="19" width="211" height="76" fill="#252527"/><path d="M24.5 19 L24.5 14 Q27 11 33 11 H232 Q240 11 242.5 14 V19 Z" fill="url(#cs_red)"/><rect x="27.5" y="94.5" width="212" height="5" fill="url(#cs_red)"/><rect x="27" y="19.5" width="1.8" height="74" fill="#2a7ae0"/><rect x="239" y="19.5" width="1.8" height="24" fill="#2a7ae0"/><rect x="239" y="69.5" width="1.8" height="24" fill="#2a7ae0"/><circle cx="238.4" cy="57.4" r="6.3" fill="#c8c8cc"/><circle cx="238.4" cy="57.4" r="4.5" fill="#6a6a70"/><circle cx="238.4" cy="57.4" r="2.5" fill="#a0a0a6"/><rect x="227" y="74" width="8" height="2" fill="#2a6ad0"/><rect x="227" y="81" width="8" height="2" fill="#2a6ad0"/><rect x="49.5" y="24" width="11.5" height="65.5" fill="url(#cs_vent)"/><rect x="64.5" y="24" width="11.5" height="65.5" fill="url(#cs_vent)"/><rect x="191.3" y="24" width="11.5" height="65.5" fill="url(#cs_vent)"/><rect x="206.3" y="24" width="11.5" height="65.5" fill="url(#cs_vent)"/><rect x="82" y="27" width="100.5" height="60" rx="1.5" fill="#151a36"/><text x="84" y="33.6" font-family="Liberation Sans, sans-serif" font-size="6.2" font-weight="700" fill="#f4f4f4">Colorlight</text><rect x="178" y="29" width="2.5" height="3.5" fill="#ddd"/><rect x="85.5" y="35" width="54.5" height="30" rx="1" fill="#2c3160"/><rect x="142" y="35" width="38" height="30" rx="1" fill="#2c3160"/><rect x="96.7" y="39.3" width="23.3" height="2.3" rx="1" fill="#141836"/><rect x="96.7" y="39.3" width="15.7" height="2.3" rx="1" fill="#1e90f0"/><rect x="88.5" y="39.699999999999996" width="4.5" height="1.5" fill="#8a90c0"/><rect x="122.5" y="39.699999999999996" width="4" height="1.5" fill="#8a90c0"/><rect x="96.7" y="49.5" width="23.3" height="2.3" rx="1" fill="#141836"/><rect x="96.7" y="49.5" width="11.2" height="2.3" rx="1" fill="#1e90f0"/><rect x="88.5" y="49.9" width="4.5" height="1.5" fill="#8a90c0"/><rect x="122.5" y="49.9" width="4" height="1.5" fill="#8a90c0"/><rect x="96.7" y="59.5" width="23.3" height="2.3" rx="1" fill="#141836"/><rect x="96.7" y="59.5" width="7.5" height="2.3" rx="1" fill="#1e90f0"/><rect x="88.5" y="59.9" width="4.5" height="1.5" fill="#8a90c0"/><rect x="122.5" y="59.9" width="4" height="1.5" fill="#8a90c0"/><rect x="131" y="38.3" width="1.5" height="4" fill="#c0c4e0"/><rect x="134" y="39.699999999999996" width="4" height="1.5" fill="#8a90c0"/><rect x="131" y="48.5" width="1.5" height="4" fill="#c0c4e0"/><rect x="134" y="49.9" width="4" height="1.5" fill="#8a90c0"/><rect x="143" y="36.3" width="17" height="7.8" rx="0.8" fill="#1a88f0"/><rect x="148.5" y="37.8" width="6" height="2" rx="1" fill="none" stroke="#d8e4ff" stroke-width="0.5" opacity="0.8"/><rect x="161.5" y="36.3" width="17" height="7.8" rx="0.8" fill="#1a88f0"/><rect x="167.0" y="37.8" width="6" height="2" rx="1" fill="none" stroke="#d8e4ff" stroke-width="0.5" opacity="0.8"/><rect x="143" y="46.3" width="17" height="7.8" rx="0.8" fill="#1a88f0"/><rect x="148.5" y="47.8" width="6" height="2" rx="1" fill="none" stroke="#d8e4ff" stroke-width="0.5" opacity="0.8"/><rect x="161.5" y="46.3" width="17" height="7.8" rx="0.8" fill="#484e78"/><rect x="167.0" y="47.8" width="6" height="2" rx="1" fill="none" stroke="#d8e4ff" stroke-width="0.5" opacity="0.8"/><rect x="143" y="55.6" width="17" height="7.8" rx="0.8" fill="#484e78"/><rect x="148.5" y="57.1" width="6" height="2" rx="1" fill="none" stroke="#d8e4ff" stroke-width="0.5" opacity="0.8"/><rect x="161.5" y="55.6" width="17" height="7.8" rx="0.8" fill="#484e78"/><rect x="167.0" y="57.1" width="6" height="2" rx="1" fill="none" stroke="#d8e4ff" stroke-width="0.5" opacity="0.8"/><circle cx="91" cy="72" r="4.3" fill="#23285a"/><circle cx="91" cy="72" r="2.4" fill="#1a6ae0"/><rect x="88" y="78" width="6" height="1.2" fill="#9aa0c8"/><circle cx="112" cy="72" r="4.3" fill="#23285a"/><circle cx="112" cy="72" r="2.4" fill="#d04060"/><rect x="109" y="78" width="6" height="1.2" fill="#9aa0c8"/><circle cx="133" cy="72" r="4.3" fill="#23285a"/><circle cx="133" cy="72" r="2.4" fill="#d04a30"/><rect x="130" y="78" width="6" height="1.2" fill="#9aa0c8"/><circle cx="154" cy="72" r="4.3" fill="#23285a"/><circle cx="154" cy="72" r="2.4" fill="#2a8ae0"/><rect x="151" y="78" width="6" height="1.2" fill="#9aa0c8"/><circle cx="175" cy="72" r="4.3" fill="#23285a"/><circle cx="175" cy="72" r="2.4" fill="#2a8ae0"/><rect x="172" y="78" width="6" height="1.2" fill="#9aa0c8"/><rect x="85" y="83" width="90" height="1" fill="#5a6090" opacity="0.7"/></g><g transform="translate(778.5 510)"><path d="M16 9.5 Q20 6 30 5 L72 0.5 L195 0.5 L248 9.5 Z" fill="url(#cs_lid)"/><rect x="14" y="9" width="234" height="91" fill="#1e1e20"/><rect x="0" y="13" width="24.5" height="86" rx="1.5" fill="#2a2a2c"/><rect x="243.5" y="13" width="22.5" height="87" rx="1.5" fill="#2a2a2c"/><rect x="2" y="20" width="17" height="76" rx="6" fill="#0e0e10"/><rect x="5" y="22" width="3" height="70" rx="1.5" fill="#2e2e32"/><ellipse cx="7" cy="94" rx="3.5" ry="2.2" fill="#f0f0f0"/><rect x="249" y="21.5" width="16" height="75" rx="6" fill="#0e0e10"/><rect x="259" y="24" width="3" height="68" rx="1.5" fill="#2e2e32"/><ellipse cx="258" cy="94.5" rx="3.5" ry="2.2" fill="#f0f0f0"/><rect x="25" y="14" width="219" height="81" fill="#28282a"/><rect x="29" y="19" width="211" height="76" fill="#252527"/><path d="M24.5 19 L24.5 14 Q27 11 33 11 H232 Q240 11 242.5 14 V19 Z" fill="url(#cs_red)"/><rect x="27.5" y="94.5" width="212" height="5" fill="url(#cs_red)"/><rect x="27" y="19.5" width="1.8" height="74" fill="#2a7ae0"/><rect x="239" y="19.5" width="1.8" height="24" fill="#2a7ae0"/><rect x="239" y="69.5" width="1.8" height="24" fill="#2a7ae0"/><circle cx="238.4" cy="57.4" r="6.3" fill="#c8c8cc"/><circle cx="238.4" cy="57.4" r="4.5" fill="#6a6a70"/><circle cx="238.4" cy="57.4" r="2.5" fill="#a0a0a6"/><rect x="227" y="74" width="8" height="2" fill="#2a6ad0"/><rect x="227" y="81" width="8" height="2" fill="#2a6ad0"/><rect x="49.5" y="24" width="11.5" height="65.5" fill="url(#cs_vent)"/><rect x="64.5" y="24" width="11.5" height="65.5" fill="url(#cs_vent)"/><rect x="191.3" y="24" width="11.5" height="65.5" fill="url(#cs_vent)"/><rect x="206.3" y="24" width="11.5" height="65.5" fill="url(#cs_vent)"/><rect x="82" y="27" width="100.5" height="60" rx="1.5" fill="#151a36"/><text x="84" y="33.6" font-family="Liberation Sans, sans-serif" font-size="6.2" font-weight="700" fill="#f4f4f4">Colorlight</text><rect x="178" y="29" width="2.5" height="3.5" fill="#ddd"/><rect x="85.5" y="35" width="54.5" height="30" rx="1" fill="#2c3160"/><rect x="142" y="35" width="38" height="30" rx="1" fill="#2c3160"/><rect x="96.7" y="39.3" width="23.3" height="2.3" rx="1" fill="#141836"/><rect x="96.7" y="39.3" width="15.7" height="2.3" rx="1" fill="#1e90f0"/><rect x="88.5" y="39.699999999999996" width="4.5" height="1.5" fill="#8a90c0"/><rect x="122.5" y="39.699999999999996" width="4" height="1.5" fill="#8a90c0"/><rect x="96.7" y="49.5" width="23.3" height="2.3" rx="1" fill="#141836"/><rect x="96.7" y="49.5" width="11.2" height="2.3" rx="1" fill="#1e90f0"/><rect x="88.5" y="49.9" width="4.5" height="1.5" fill="#8a90c0"/><rect x="122.5" y="49.9" width="4" height="1.5" fill="#8a90c0"/><rect x="96.7" y="59.5" width="23.3" height="2.3" rx="1" fill="#141836"/><rect x="96.7" y="59.5" width="7.5" height="2.3" rx="1" fill="#1e90f0"/><rect x="88.5" y="59.9" width="4.5" height="1.5" fill="#8a90c0"/><rect x="122.5" y="59.9" width="4" height="1.5" fill="#8a90c0"/><rect x="131" y="38.3" width="1.5" height="4" fill="#c0c4e0"/><rect x="134" y="39.699999999999996" width="4" height="1.5" fill="#8a90c0"/><rect x="131" y="48.5" width="1.5" height="4" fill="#c0c4e0"/><rect x="134" y="49.9" width="4" height="1.5" fill="#8a90c0"/><rect x="143" y="36.3" width="17" height="7.8" rx="0.8" fill="#1a88f0"/><rect x="148.5" y="37.8" width="6" height="2" rx="1" fill="none" stroke="#d8e4ff" stroke-width="0.5" opacity="0.8"/><rect x="161.5" y="36.3" width="17" height="7.8" rx="0.8" fill="#1a88f0"/><rect x="167.0" y="37.8" width="6" height="2" rx="1" fill="none" stroke="#d8e4ff" stroke-width="0.5" opacity="0.8"/><rect x="143" y="46.3" width="17" height="7.8" rx="0.8" fill="#1a88f0"/><rect x="148.5" y="47.8" width="6" height="2" rx="1" fill="none" stroke="#d8e4ff" stroke-width="0.5" opacity="0.8"/><rect x="161.5" y="46.3" width="17" height="7.8" rx="0.8" fill="#484e78"/><rect x="167.0" y="47.8" width="6" height="2" rx="1" fill="none" stroke="#d8e4ff" stroke-width="0.5" opacity="0.8"/><rect x="143" y="55.6" width="17" height="7.8" rx="0.8" fill="#484e78"/><rect x="148.5" y="57.1" width="6" height="2" rx="1" fill="none" stroke="#d8e4ff" stroke-width="0.5" opacity="0.8"/><rect x="161.5" y="55.6" width="17" height="7.8" rx="0.8" fill="#484e78"/><rect x="167.0" y="57.1" width="6" height="2" rx="1" fill="none" stroke="#d8e4ff" stroke-width="0.5" opacity="0.8"/><circle cx="91" cy="72" r="4.3" fill="#23285a"/><circle cx="91" cy="72" r="2.4" fill="#1a6ae0"/><rect x="88" y="78" width="6" height="1.2" fill="#9aa0c8"/><circle cx="112" cy="72" r="4.3" fill="#23285a"/><circle cx="112" cy="72" r="2.4" fill="#d04060"/><rect x="109" y="78" width="6" height="1.2" fill="#9aa0c8"/><circle cx="133" cy="72" r="4.3" fill="#23285a"/><circle cx="133" cy="72" r="2.4" fill="#d04a30"/><rect x="130" y="78" width="6" height="1.2" fill="#9aa0c8"/><circle cx="154" cy="72" r="4.3" fill="#23285a"/><circle cx="154" cy="72" r="2.4" fill="#2a8ae0"/><rect x="151" y="78" width="6" height="1.2" fill="#9aa0c8"/><circle cx="175" cy="72" r="4.3" fill="#23285a"/><circle cx="175" cy="72" r="2.4" fill="#2a8ae0"/><rect x="172" y="78" width="6" height="1.2" fill="#9aa0c8"/><rect x="85" y="83" width="90" height="1" fill="#5a6090" opacity="0.7"/></g></svg>
<svg class="a" style="left:560px;top:640px" width="640" height="239" viewBox="560 640 640 239">
  <defs>
    <linearGradient id="mo_chin" x1="0" y1="0" x2="1" y2="0">
      <stop offset="0" stop-color="#b8b8bc"/>
      <stop offset="0.5" stop-color="#e6e6ea"/>
      <stop offset="1" stop-color="#a8a8ac"/>
    </linearGradient>
    <linearGradient id="mo_stand" x1="0" y1="0" x2="1" y2="0">
      <stop offset="0" stop-color="#8a8a8e"/>
      <stop offset="0.5" stop-color="#d8d8dc"/>
      <stop offset="1" stop-color="#7a7a7e"/>
    </linearGradient>
    <radialGradient id="mo_eye" cx="0.5" cy="0.5" r="0.5">
      <stop offset="0" stop-color="#3a6ae0"/>
      <stop offset="0.2" stop-color="#0a1a40"/>
      <stop offset="0.45" stop-color="#2a58c8"/>
      <stop offset="0.8" stop-color="#13306e"/>
      <stop offset="1" stop-color="#0a0e1a"/>
    </radialGradient>
    <linearGradient id="wf" x1="0" y1="0" x2="1" y2="1">
      <stop offset="0" stop-color="#1a62c8"/>
      <stop offset="1" stop-color="#3aa4e8"/>
    </linearGradient>
    <linearGradient id="skin" x1="0" y1="0" x2="0" y2="1">
      <stop offset="0" stop-color="#f2d4bc"/>
      <stop offset="1" stop-color="#e0b494"/>
    </linearGradient>
    <radialGradient id="pad_tun" cx="0.5" cy="0.5" r="0.6">
      <stop offset="0" stop-color="#a0e0ff"/>
      <stop offset="0.3" stop-color="#2a78d8"/>
      <stop offset="1" stop-color="#0a2a68"/>
    </radialGradient>
  </defs>
  <!-- monitor -->
  <rect x="580" y="688.3" width="152.3" height="92" rx="2" fill="#050505"/>
  <path d="M700 688.3 L730 688.3 Q732.3 688.3 732.3 691 L732.3 779 L727 779 L727 693 L705 693 Z" fill="#2e2e30"/>
  <rect x="585" y="692" width="142" height="84" fill="#1c1c20"/>
  <rect x="585" y="692" width="142" height="4" fill="#2a2a30"/>
  <rect x="586" y="697" width="31" height="28" fill="#202026"/>
  <g fill="#3a5aa0"><rect x="588" y="700" width="2" height="2"/><rect x="588" y="705" width="2" height="2"/><rect x="588" y="710" width="2" height="2"/><rect x="588" y="715" width="2" height="2"/></g>
  <g fill="#d07a2a"><rect x="610" y="700" width="4" height="3"/><rect x="610" y="705" width="4" height="3"/><rect x="610" y="712" width="4" height="3"/></g>
  <rect x="618" y="699" width="76" height="46" fill="#050608"/>
  <ellipse cx="656.5" cy="722.5" rx="37" ry="21" fill="#0a1228"/>
  <g fill="none" stroke="#3a6ad8" stroke-width="0.55" opacity="0.9"><ellipse cx="656.5" cy="722.5" rx="37.0" ry="21.0"/><ellipse cx="656.5" cy="722.5" rx="33.7" ry="19.1"/><ellipse cx="656.5" cy="722.5" rx="30.4" ry="17.2"/><ellipse cx="656.5" cy="722.5" rx="27.1" ry="15.3"/><ellipse cx="656.5" cy="722.5" rx="23.8" ry="13.4"/><ellipse cx="656.5" cy="722.5" rx="20.5" ry="11.5"/><ellipse cx="656.5" cy="722.5" rx="17.2" ry="9.6"/><ellipse cx="656.5" cy="722.5" rx="13.9" ry="7.7"/><ellipse cx="656.5" cy="722.5" rx="10.6" ry="5.8"/><path d="M668.5 722.5 L693.5 722.5 M668.1 724.3 L692.2 727.9 M666.9 725.9 L688.5 733.0 M665.0 727.3 L682.7 737.3 M662.5 728.4 L675.0 740.7 M659.6 729.1 L666.1 742.8 M656.5 729.3 L656.5 743.5 M653.4 729.1 L646.9 742.8 M650.5 728.4 L638.0 740.7 M648.0 727.3 L630.3 737.3 M646.1 725.9 L624.5 733.0 M644.9 724.3 L620.8 727.9 M644.5 722.5 L619.5 722.5 M644.9 720.7 L620.8 717.1 M646.1 719.1 L624.5 712.0 M648.0 717.7 L630.3 707.7 M650.5 716.6 L638.0 704.3 M653.4 715.9 L646.9 702.2 M656.5 715.7 L656.5 701.5 M659.6 715.9 L666.1 702.2 M662.5 716.6 L675.0 704.3 M665.0 717.7 L682.7 707.7 M666.9 719.1 L688.5 712.0 M668.1 720.7 L692.2 717.1 "/></g>
  <ellipse cx="656.5" cy="722.5" rx="11" ry="6.2" fill="#081024"/>
  <ellipse cx="656.5" cy="722.5" rx="6" ry="3.4" fill="none" stroke="#3a70e0" stroke-width="1"/>
  <ellipse cx="656.5" cy="722.5" rx="2.5" ry="1.5" fill="#4a88ff"/>
  <rect x="695" y="699" width="31" height="47" fill="#222228"/>
  <g fill="#3a7ae0"><rect x="696" y="703" width="18" height="2.5"/><rect x="696" y="707" width="18" height="2.5"/><rect x="696" y="711" width="18" height="2.5"/></g>
  <g fill="#c04a2a"><rect x="715" y="703" width="9" height="2.5"/><rect x="715" y="707" width="9" height="2.5"/><rect x="715" y="711" width="9" height="2.5"/></g>
  <rect x="696" y="724" width="30" height="1" fill="#444"/><rect x="696" y="730" width="30" height="1" fill="#444"/>
  <rect x="586" y="748" width="108" height="27" fill="#16161a"/>
  <rect x="598" y="752" width="14" height="3" fill="#2a9a4a"/>
  <g fill="#444"><rect x="586" y="751" width="108" height="0.6"/></g>
  <rect x="597" y="758" width="8" height="6" fill="#d84a1a"/><rect x="605" y="758" width="8" height="6" fill="#c8282a"/><rect x="613" y="758" width="9" height="6" fill="#c08a30"/>
  <rect x="597" y="766" width="8" height="6" fill="#d8501a"/><rect x="605" y="766" width="8" height="6" fill="#d0a030"/>
  <rect x="586" y="756" width="3" height="18" fill="#c8a040" opacity="0.6"/>
  <rect x="580" y="780" width="152.3" height="15" rx="2" fill="url(#mo_chin)"/>
  <path d="M640 795 L672 795 L674 808 L680 811 L680 813 L631 813 L631 811 L637 808 Z" fill="url(#mo_stand)"/>

  <!-- wifi -->
  <g fill="none" stroke="url(#wf)" stroke-width="7.5">
    <path d="M1045.3 669.1 A27 27 0 0 1 1086.7 669.1"/>
    <path d="M1054.1 676.5 A15.5 15.5 0 0 1 1077.9 676.5"/>
  </g>
  <circle cx="1066" cy="686.5" r="4.6" fill="url(#wf)"/>
  <!-- pad -->
  <path d="M1017 702.5 L1121 702.5 L1120.5 770.5 L1018 770.5 Z" fill="#0a0a0c"/><rect x="1030" y="769.5" width="72" height="1.5" fill="#b8b8bc"/>
  <rect x="1020" y="704" width="99" height="63" fill="#1a1c24"/>
  <rect x="1020" y="704" width="99" height="4" fill="#2a2c36"/>
  <rect x="1029" y="711" width="50" height="30" fill="url(#pad_tun)"/>
  <g stroke="#a8d8ff" stroke-width="0.6" opacity="0.7" fill="none"><path d="M1029 711 L1054 726 L1079 711 M1029 741 L1054 726 L1079 741"/></g>
  <rect x="1029" y="741" width="50" height="2" fill="#2ad0a0"/>
  <rect x="1046" y="745" width="9" height="3" fill="#2ac060"/>
  <rect x="1090" y="709" width="27" height="44" fill="#14161e"/>
  <g fill="#2a80e0"><rect x="1093" y="712" width="20" height="2"/><rect x="1093" y="716" width="20" height="2"/><rect x="1093" y="720" width="20" height="2"/><rect x="1093" y="724" width="20" height="2"/><rect x="1093" y="728" width="20" height="2"/><rect x="1093" y="732" width="20" height="2"/><rect x="1093" y="736" width="20" height="2"/></g>
  <g fill="#e07a2a"><rect x="1100" y="712" width="3" height="2"/><rect x="1100" y="720" width="3" height="2"/><rect x="1100" y="728" width="3" height="2"/></g>
  <rect x="1028" y="750" width="8" height="6" fill="#3a8ad0"/><rect x="1038" y="750" width="8" height="6" fill="#4a9a3a"/><rect x="1048" y="750" width="8" height="6" fill="#8ab0c0"/><rect x="1058" y="750" width="8" height="6" fill="#3ab0a0"/><rect x="1068" y="750" width="8" height="6" fill="#a070c0"/><rect x="1078" y="750" width="8" height="6" fill="#c080d0"/>
  <rect x="1030" y="759" width="8" height="5" fill="#b070d0"/><rect x="1040" y="759" width="8" height="5" fill="#d08040"/>
  <!-- left hand -->
  <path d="M1021 721.5 Q1026 721 1027 727 L1028 745 L1031 768 L1040 776 Q1043 781 1038 783 L1034 790 L1030 800 L1018 810 L985 812 L988 800 L994 785 L999 765 L1000 748 Q1004 740 1012 737 L1015 728 Q1016 722 1021 721.5 Z" fill="url(#skin)"/>
  <path d="M1016 725 Q1021 722 1026 725" stroke="#f8e8dc" stroke-width="1.5" fill="none"/>
  <!-- right hand -->
  <path d="M1083 735 Q1086 732 1090 735 L1108 755 L1134 754 L1144 756.5 L1151 763 L1157.5 779 L1164 796 L1171 809 L1177 817 L1150 817 L1139 810 L1127 801 L1116 791 L1103 781 L1086 774 Q1078 775 1079 771 L1095 769 L1103 762 L1100 758 L1084 741 Q1081 738 1083 735 Z" fill="url(#skin)"/>
  <path d="M1083 736 Q1086 733 1089 736" stroke="#f8e8dc" stroke-width="1.5" fill="none"/>
</svg>


<!-- top labels -->
<div class="tl" style="left:116px">大型会议</div>
<div class="tl" style="left:540px">大数据中心</div>
<div class="tl" style="left:980px">展览展示</div>

<!-- header text -->
<div class="a" style="left:363px;top:276.5px;width:810px;height:49px;line-height:49px;text-align:center;color:#fff;font-size:28.5px;letter-spacing:2px;text-indent:1px;font-weight:700;-webkit-text-stroke:0.3px #fff;">超大分辨率解决方案</div>

<!-- 外部采集 -->
<div class="a" style="left:27px;top:276px;width:264px;height:48px;background:#d49168;border-radius:5px;color:#fff;font-size:25px;line-height:50px;text-align:center;-webkit-text-stroke:0.3px #fff;">外部采集</div>

<div class="card" style="top:364px"><div class="ic"></div><div class="tx">摄像机</div></div>
<div class="card" style="top:506px"><div class="ic"></div><div class="tx">笔记本</div></div>
<div class="card" style="top:648px"><div class="ic"></div><div class="tx">平板电脑</div></div>

<svg class="a" style="left:0;top:360px" width="120" height="380" viewBox="0 360 120 380">
  <defs>
    <radialGradient id="ic_lens" cx="0.45" cy="0.45" r="0.6">
      <stop offset="0" stop-color="#f0c060"/>
      <stop offset="0.45" stop-color="#a06a20"/>
      <stop offset="1" stop-color="#1a1a1a"/>
    </radialGradient>
    <linearGradient id="ic_tab" x1="0" y1="0" x2="1" y2="1">
      <stop offset="0" stop-color="#8ab8ec"/>
      <stop offset="0.35" stop-color="#f0c8a0"/>
      <stop offset="0.5" stop-color="#1a2a60"/>
      <stop offset="0.6" stop-color="#e8f0ff"/>
      <stop offset="0.8" stop-color="#7a9ae0"/>
      <stop offset="1" stop-color="#3a50b0"/>
    </linearGradient>
    <linearGradient id="ic_lap" x1="0" y1="0" x2="0" y2="1">
      <stop offset="0" stop-color="#b8b8b4"/>
      <stop offset="1" stop-color="#6a6a68"/>
    </linearGradient>
  </defs>
  <!-- camera -->
  <g>
    <rect x="42" y="387" width="34" height="7" rx="3.5" fill="#2a2a2e"/>
    <ellipse cx="47" cy="391" rx="5.5" ry="5" fill="#242428"/>
    <circle cx="65" cy="385" r="4.2" fill="none" stroke="#1e1e22" stroke-width="2.6"/>
    <path d="M54 393 L60 393 L62 408 L56 409 Z" fill="#1e1e22"/>
    <path d="M70 392 L91 394 L92 403 L72 404 Z" fill="#2a2a2e"/>
    <path d="M73 395 L89 396" stroke="#555" stroke-width="0.8"/>
    <path d="M38.5 416 Q40 411 46 410 L62 405 L78 408 L80 431 L62 431 Q44 429 39 425 Z" fill="#1c1c20"/>
    <path d="M39 417 Q42 413 48 413 L58 414 L60 428 Q46 428 40 424 Z" fill="#2c2c30"/>
    <path d="M44 420 L54 422" stroke="#666" stroke-width="0.8"/>
    <rect x="75" y="409" width="27" height="23" rx="3" fill="#141416"/>
    <rect x="92" y="410" width="10" height="21" rx="2" fill="#1e1e22"/>
    <circle cx="84" cy="419.5" r="4.6" fill="url(#ic_lens)"/>
  </g>
  <!-- laptop -->
  <g>
    <path d="M61 527 L107.4 523.7 L106.5 564.4 L61 560 Z" fill="#0e1018"/>
    <path d="M62.5 528.5 L105.8 525.5 L105 562.5 L62.5 558.5 Z" fill="#1a2038"/>
    <path d="M72 531 L105 529 L105 545 L72 545.5 Z" fill="#1e3050"/>
    <circle cx="78" cy="538" r="2.6" fill="none" stroke="#c04a7a" stroke-width="1"/>
    <circle cx="86" cy="537" r="3.3" fill="none" stroke="#3ac0e8" stroke-width="1.2"/>
    <circle cx="93" cy="537" r="1.5" fill="#e06a3a"/>
    <circle cx="100" cy="536" r="2.5" fill="none" stroke="#2a90c0" stroke-width="1"/>
    <rect x="72" y="546" width="33" height="7" fill="#120e1a"/>
    <path d="M31 563.5 L61 558.5 L106 565.5 L104.5 570.5 L80 572 L36 567 Z" fill="url(#ic_lap)"/>
    <path d="M40 563.5 L62 560 L98 565.5 L78 568 Z" fill="#3a3a3c"/>
  </g>
  <!-- tablet -->
  <g>
    <rect x="47" y="659" width="45.2" height="63.6" rx="3.5" fill="#0c0c0e"/>
    <rect x="49" y="664.8" width="41.1" height="52.1" fill="url(#ic_tab)"/>
    <path d="M49 664.8 H66 L49 690 Z" fill="#9ac0ea" opacity="0.8"/>
    <path d="M49 695 L62 690 L66 700 L56 716.9 L49 716.9 Z" fill="#f4c898" opacity="0.9"/>
    <path d="M72 664.8 L80 664.8 L58 705 L54 705 Z" fill="#2a1a30" opacity="0.8"/>
    <path d="M78 664.8 L86 664.8 L62 716.9 L55 716.9 Z" fill="#1a2050" opacity="0.9"/>
    <path d="M76 672 L80 672 L66 690 L60 688 Z" fill="#ffc040"/>
    <path d="M66 684 L71 684 L68 694 L64 692 Z" fill="#2a6ae0"/>
    <path d="M86 664.8 L90.1 664.8 L90.1 672 L70 716.9 L64 716.9 Z" fill="#e8eefc"/>
    <path d="M90.1 680 L90.1 716.9 L76 716.9 Z" fill="#5a6ad0"/>
  </g>
</svg>


<!-- server labels -->
<div class="sl" style="left:431px">8K视频拼接器</div>
<div class="sl" style="left:621px">8K视频拼接器</div>
<div class="sl" style="left:801px">8K视频拼接器</div>
<div class="sl" style="left:974px">8K视频拼接器</div>

<div class="cl" style="left:544px">CS20-8K Pro(备端)</div>
<div class="cl" style="left:839px">CS20-8K Pro(主端)</div>

<div class="a" style="left:996.5px;top:809.5px;width:149px;height:22.5px;background:#f4f4f4;border-radius:4px;color:#111;font-size:16px;line-height:24px;text-align:center;-webkit-text-stroke:0.2px #111;">可视化操作Pad端</div>

</body>
</html>
